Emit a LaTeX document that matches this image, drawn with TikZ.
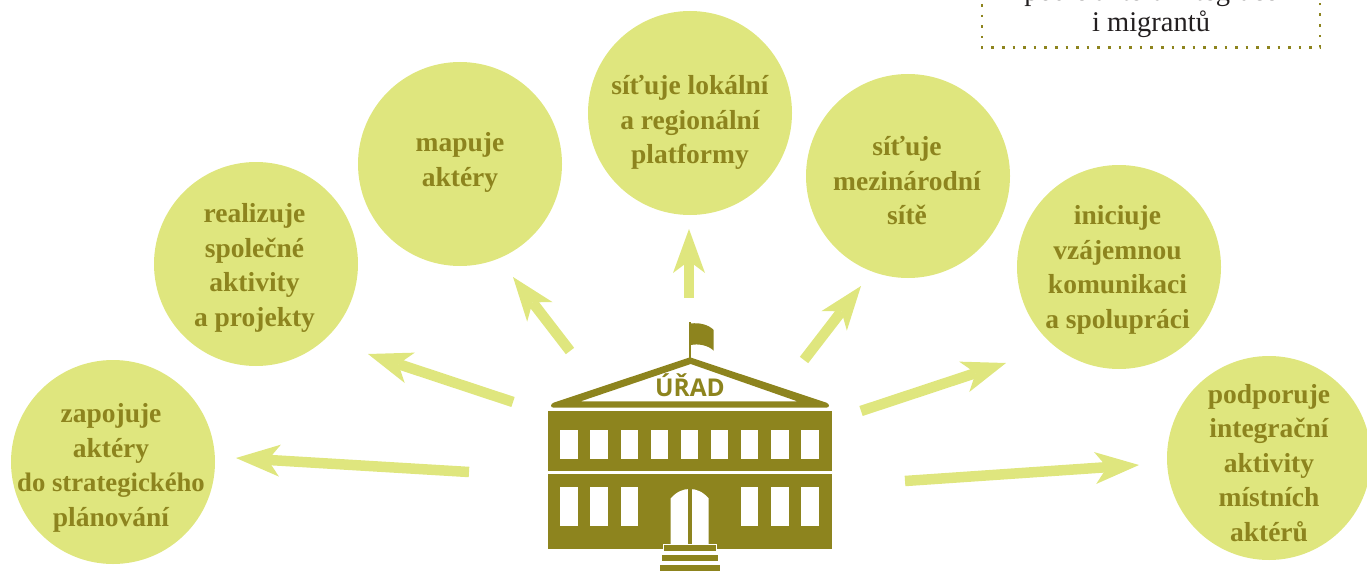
\documentclass[tikz,border=0pt]{standalone}
\usepackage{fontspec}
\setmainfont{Liberation Serif}
\newfontfamily\signfont{Open Sans}
\usetikzlibrary{arrows.meta}
\definecolor{lime}{HTML}{DFE67E}
\definecolor{olive}{HTML}{8D841E}
\definecolor{ink}{HTML}{231F20}
\tikzset{
  x=1pt,y=-1pt,
  disc/.style={circle,fill=lime,minimum size=204pt,inner sep=0pt},
  caption/.style={inner sep=0pt,align=center,text=olive,
    font=\fontsize{27.5}{34.5}\selectfont\bfseries},
  ray/.style={draw=lime,line width=10.5pt,-{Stealth[length=44pt,width=32pt,inset=12pt,line width=0pt]}},
  pane/.style={fill=white},
  masonry/.style={fill=olive},
  notetext/.style={anchor=base,inner sep=0pt,text=ink,font=\fontsize{28.5}{28.5}\selectfont},
}
\begin{document}
\begin{tikzpicture}
\useasboundingbox (0,0) rectangle (1367,575);
\clip (0,0) rectangle (1367,575);
% discs
\node[disc] (a) at (113,462) {};
\node[disc] (b) at (256,264) {};
\node[disc] (c) at (460,164) {};
\node[disc] (d) at (690,113) {};
\node[disc] (e) at (908,176) {};
\node[disc] (f) at (1119,267) {};
\node[disc] (g) at (1269,458) {};
\node[caption] (at) at (111,468) {zapojuje\\aktéry\\{\fontsize{26.7}{34.5}\selectfont do strategického}\\plánování};
\node[caption] (bt) at (254.5,268) {realizuje\\společné\\aktivity\\a projekty};
\node[caption] (ct) at (460,162.5) {mapuje\\aktéry};
\node[caption] (dt) at (690,122.5) {síťuje lokální\\a regionální\\platformy};
\node[caption] (et) at (907,181) {síťuje\\mezinárodní\\sítě};
\node[caption] (ft) at (1117.5,270) {iniciuje\\vzájemnou\\komunikaci\\a spolupráci};
\node[caption] (gt) at (1269,463) {podporuje\\integrační\\aktivity\\místních\\aktérů};
% arrow ends
\coordinate (a0) at (469,472); \coordinate (a1) at (236,458);
\coordinate (b0) at (513,402); \coordinate (b1) at (368,354);
\coordinate (c0) at (570,351); \coordinate (c1) at (513,277);
\coordinate (d0) at (689,298); \coordinate (d1) at (689,229);
\coordinate (e0) at (804,360); \coordinate (e1) at (861,286);
\coordinate (f0) at (861,411); \coordinate (f1) at (1006,363);
\coordinate (g0) at (905,481); \coordinate (g1) at (1139,465);
\foreach \k in {a,b,c,d,e,f,g} \draw[ray] (\k0) -- (\k1);
% building
\fill[masonry] (547.5,411) rectangle (831.7,470.7);
\fill[masonry] (547.5,473.7) rectangle (831.7,549.3);
\foreach \i in {0,...,8} \fill[pane] ({560.3+30.13*\i},430.3) rectangle +(17.4,28.7);
\foreach \i in {0,1,2,6,7,8} \fill[pane] ({560.3+30.13*\i},487) rectangle +(17.4,39);
\fill[pane] (670.7,544.5) -- (670.7,498.3) .. controls (677,491.5) and (683,489) .. (689.7,489)
  .. controls (696.5,489) and (702.5,491.5) .. (708.7,498.3) -- (708.7,544.5) -- cycle;
\fill[masonry] (687.7,487) rectangle (691.7,545);
\fill[masonry,draw=white,line width=0.8pt] (663.7,544.7) rectangle (716,550.9);
\fill[masonry] (662,555) rectangle (718,560.7);
\fill[masonry] (660,565) rectangle (720,571);
% roof
\fill[masonry,even odd rule] (690,357.3) -- (826,402.5) .. controls (830,404) and (830,407.7) .. (826,407.7)
  -- (554,407.7) .. controls (550,407.7) and (550,404) .. (554,402.5) -- cycle
  (690.7,364) -- (797.3,401.3) -- (580.7,401.3) -- cycle;
\fill[masonry] (689,322) rectangle (691,358);
\fill[masonry] (691,323.5) .. controls (698,322.5) and (708,324) .. (713.7,330) -- (713.7,350.7)
  .. controls (708,345) and (698,343.5) .. (691,345) -- cycle;
\node[anchor=base,inner sep=0pt,text=olive,font=\signfont\fontsize{24.5}{24.5}\selectfont\bfseries] (sign) at (690,396.7) {ÚŘAD};
% dotted box
\coordinate (n1) at (982,-6.6); \coordinate (n2) at (982,47.7);
\coordinate (n3) at (1320,47.7); \coordinate (n4) at (1320,-6.6);
\draw[olive,line width=2.6pt,dash pattern=on 2.6pt off 8pt] (n1) -- (n2) -- (n3) -- (n4);
\node[notetext] (note2) at (1151,32) {i migrantů};
\node[notetext] (note1) at (1151,1) {podle aktérů integrace};
\end{tikzpicture}
\end{document}
